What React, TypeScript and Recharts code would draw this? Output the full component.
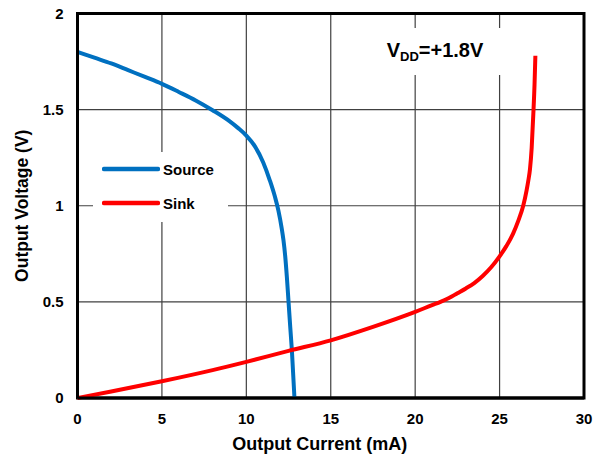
import React from "react";
import { LineChart, Line, XAxis, YAxis, CartesianGrid, Legend, ReferenceArea } from "recharts";

const FONT = '"Liberation Sans", Arial, sans-serif';

const xTicks = [0, 5, 10, 15, 20, 25, 30];
const yTicks = [0, 0.5, 1, 1.5, 2];
const seriesOrder = ["Source", "Sink"];

// Source: output current (mA) vs output voltage (V)
const sourceCurrent = [0, 1, 2, 3, 4, 5, 6, 7, 8, 9, 9.5, 10, 10.5, 11, 11.4, 11.7, 11.9, 12.1, 12.2, 12.3, 12.4, 12.5, 12.6, 12.7, 12.85];
const sourceVoltage = [1.8, 1.77, 1.74, 1.705, 1.67, 1.634, 1.592, 1.548, 1.497, 1.44, 1.405, 1.365, 1.31, 1.225, 1.13, 1.045, 0.975, 0.88, 0.82, 0.74, 0.63, 0.5, 0.37, 0.245, 0.0];

// Sink
const sinkCurrent = [0, 2, 5, 8, 10, 12.5, 15, 17.5, 20, 21, 21.5, 22, 22.5, 23, 23.5, 24, 24.5, 25, 25.4, 25.8, 26.1, 26.4, 26.6, 26.7, 26.8, 26.9, 27.0, 27.07, 27.12];
const sinkVoltage = [0, 0.034, 0.087, 0.145, 0.188, 0.245, 0.3, 0.37, 0.448, 0.483, 0.5, 0.52, 0.545, 0.57, 0.598, 0.635, 0.68, 0.737, 0.79, 0.855, 0.92, 1.0, 1.08, 1.13, 1.19, 1.3, 1.48, 1.63, 1.78];

const sourceData = sourceCurrent.map((x, i) => ({ x, v: sourceVoltage[i] }));
const sinkData = sinkCurrent.map((x, i) => ({ x, v: sinkVoltage[i] }));

const tickStyle = { fontSize: 15, fontWeight: 700, fill: "#000", fontFamily: FONT };

const LegendBox = ({ payload }: any) => {
  const items = [...(payload || [])].sort(
    (a: any, b: any) => seriesOrder.indexOf(a.value) - seriesOrder.indexOf(b.value)
  );
  return (
    <div style={{ background: "#fff", paddingLeft: 9, width: 135, height: 70, boxSizing: "border-box", fontFamily: FONT }}>
      {items.map((p: any) => (
        <div key={p.value} style={{ display: "flex", alignItems: "center", height: 34 }}>
          <svg width={58} height={8}>
            <line x1={2} y1={4} x2={56} y2={4} stroke={p.color} strokeWidth={4.5} strokeLinecap="round" />
          </svg>
          <span style={{ marginLeft: 3, fontSize: 15, fontWeight: 700, color: "#000" }}>{p.value}</span>
        </div>
      ))}
    </div>
  );
};

const YTitle = ({ viewBox }: any) => {
  const x = viewBox.x + 22;
  const y = viewBox.y + viewBox.height / 2;
  return (
    <text x={x} y={y} transform={`rotate(-90 ${x} ${y})`} textAnchor="middle" dominantBaseline="central"
          style={{ fontSize: 17.5, fontWeight: 700, fontFamily: FONT }} fill="#000">
      Output Voltage (V)
    </text>
  );
};

const XTitle = ({ viewBox }: any) => {
  const x = viewBox.x + viewBox.width / 2 - 11;
  return (
    <text x={x} y={450} textAnchor="middle"
          style={{ fontSize: 18, fontWeight: 700, fontFamily: FONT }} fill="#000">
      Output Current (mA)
    </text>
  );
};

export default function App() {
  return (
    <div style={{ position: "absolute", left: 0, top: 0, width: 606, height: 457, background: "#fff" }}>
      <LineChart width={606} height={457} margin={{ top: 13.5, right: 22, bottom: 9, left: 0 }}>
        <CartesianGrid stroke="#404040" strokeWidth={1.2} />
        <XAxis
          type="number"
          dataKey="x"
          domain={[0, 30]}
          ticks={xTicks}
          height={50}
          tick={tickStyle}
          tickLine={false}
          tickSize={0}
          tickMargin={15}
          axisLine={{ stroke: "#000", strokeWidth: 3 }}
          label={<XTitle />}
        />
        <YAxis
          type="number"
          domain={[0, 2]}
          ticks={yTicks}
          width={77.5}
          tick={tickStyle}
          tickLine={false}
          tickSize={0}
          tickMargin={14}
          axisLine={{ stroke: "#000", strokeWidth: 3 }}
          label={<YTitle />}
        />
        <ReferenceArea x1={0} x2={30} y1={0} y2={2} fill="none" stroke="#000" strokeWidth={3} />
        <Legend
          layout="vertical"
          align="center"
          verticalAlign="middle"
          content={<LegendBox />}
          wrapperStyle={{ left: 93, top: 152, width: 135, height: 70 }}
        />
        <Line data={sourceData} dataKey="v" name="Source" type="monotone" stroke="#0070C0"
              strokeWidth={4} dot={false} isAnimationActive={false} />
        <Line data={sinkData} dataKey="v" name="Sink" type="monotone" stroke="#FF0000"
              strokeWidth={4} dot={false} isAnimationActive={false} />
      </LineChart>
      <div style={{
        position: "absolute", left: 345, top: 28, width: 165, height: 47, background: "#fff",
        display: "flex", alignItems: "center", justifyContent: "center", paddingLeft: 15, boxSizing: "border-box",
        fontFamily: FONT, fontWeight: 700, fontSize: 20, color: "#000",
      }}>
        <span>V<sub style={{ fontSize: 13, verticalAlign: "-4px" }}>DD</sub>=+1.8V</span>
      </div>
    </div>
  );
}
